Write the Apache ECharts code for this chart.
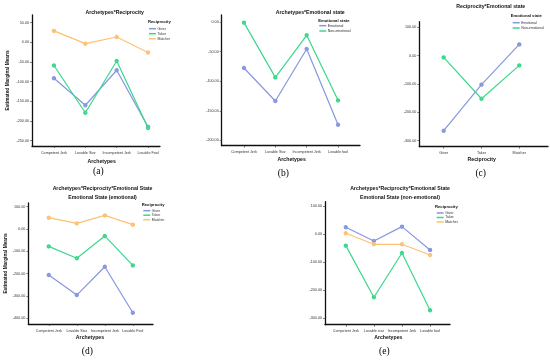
<!DOCTYPE html>
<html><head><meta charset="utf-8">
<script src="https://cdn.jsdelivr.net/npm/echarts@6/dist/echarts.min.js"></script>
<style>html,body{margin:0;padding:0;background:#fff}#c{width:550px;height:362px}</style>
</head><body><div id="c"></div>
<script>
// ---- categories ----
const archetypesA = ['Competent Jerk','Lovable Star','Incompetent Jerk','Lovable Fool'];
const archetypesB = ['Competent Jerk','Lovable Star','Incompetent Jerk','Lovable fool'];
const reciprocityCats = ['Giver','Taker','Matcher'];
const archetypesD = ['Competent Jerk','Lovable Star','Incompetent Jerk','Lovable Fool'];
const archetypesE = ['Competent Jerk','Lovable star','Incompetent Jerk','Lovable fool'];
// ---- series values ----
const giverA   = [-91.5, -160, -71, -215];
const takerA   = [-59, -179, -47.5, -218];
const matcherA = [29, -3.4, 13.5, -26];
const emotionalB    = [-77.7, -133.5, -45.6, -173.5];
const nonEmotionalB = [-1, -93.5, -22.5, -132.4];
const emotionalC    = [-264.7, -102, 40];
const nonEmotionalC = [-5.9, -151.8, -34];
const giverD   = [-206, -295.5, -168.7, -374.6];
const takerD   = [-77.6, -131, -31, -162.7];
const matcherD = [50.7, 25.4, 61, 19.4];
const giverE   = [25, -24, 27.5, -56];
const takerE   = [-40.6, -225.8, -67, -272.4];
const matcherE = [3.6, -35.8, -35.8, -74];
// ---- tick labels ----
const ticksA = [-250, -200, -150, -100, -50, 0, 50];
const ticksB = [-200, -150, -100, -50, 0];
const ticksC = [-300, -200, -100, 0, 100];
const ticksD = [-400, -300, -200, -100, 0, 100];
const ticksE = [-300, -200, -100, 0, 100];

const FONT = 'Liberation Sans';
const BLUE = '#8697DE', GREEN = '#3CD78D', ORANGE = '#FDC173';

const panels = [
  {g:{left:32,top:15,width:128,height:131}, x:[-0.70,3.38], y:[-263.6,69.4], cats:archetypesA, ticks:ticksA,
   series:[['Giver',giverA,BLUE],['Taker',takerA,GREEN],['Matcher',matcherA,ORANGE]],
   title:['Archetypes*Reciprocity'], tx:114.7, ty:[12.3],
   lt:'Reciprocity', ltx:148, lty:21.7, lx:149, ly:26.7, lgap:1,
   xname:'Archetypes', xnx:101.7, xny:162, lab:'(a)', labx:98.3, laby:171.7, yname:true, ynGap:22},
  {g:{left:221.7,top:15,width:138.3,height:130.7}, x:[-0.71,3.7], y:[-209,11.8], cats:archetypesB, ticks:ticksB,
   series:[['Emotional',emotionalB,BLUE],['Non-emotional',nonEmotionalB,GREEN]],
   title:['Archetypes*Emotional state'], tx:310.3, ty:[12.3],
   lt:'Emotional state', ltx:318.3, lty:20.7, lx:319.3, ly:23.7, lgap:1.3,
   xname:'Archetypes', xnx:291.7, xny:159.3, lab:'(b)', labx:283.3, laby:173.3},
  {g:{left:419.3,top:21.7,width:128.7,height:125}, x:[-0.645,2.76], y:[-321,120], cats:reciprocityCats, ticks:ticksC,
   series:[['Emotional',emotionalC,BLUE],['Non-emotional',nonEmotionalC,GREEN]],
   title:['Reciprocity*Emotional state'], tx:490.8, ty:[6.3],
   lt:'Emotional state', ltx:510.7, lty:15.7, lx:512.7, ly:20.7, lgap:1.3,
   xname:'Reciprocity', xnx:481.7, xny:159.3, lab:'(c)', labx:480.7, laby:173.3},
  {g:{left:28.3,top:203,width:124.7,height:121}, x:[-0.73,3.72], y:[-425,116.4], cats:archetypesD, ticks:ticksD,
   series:[['Giver',giverD,BLUE],['Taker',takerD,GREEN],['Matcher',matcherD,ORANGE]],
   title:['Archetypes*Reciprocity*Emotional State','Emotional State (emotional)'], tx:102.5, ty:[189,197.3],
   lt:'Reciprocity', ltx:141.7, lty:204.7, lx:143.3, ly:208.7, lgap:0.5,
   xname:'Archetypes', xnx:90, xny:337.3, lab:'(d)', labx:87.3, laby:351.7, yname:true, ynGap:20},
  {g:{left:325,top:201.7,width:125,height:123}, x:[-0.74,3.71], y:[-324,116.8], cats:archetypesE, ticks:ticksE,
   series:[['Giver',giverE,BLUE],['Taker',takerE,GREEN],['Matcher',matcherE,ORANGE]],
   title:['Archetypes*Reciprocity*Emotional State','Emotional State (non-emotional)'], tx:400, ty:[188.7,197.3],
   lt:'Reciprocity', ltx:435, lty:206.7, lx:436.7, ly:211, lgap:0.5,
   xname:'Archetypes', xnx:388.3, xny:337.3, lab:'(e)', labx:384.3, laby:351.7}
];

const grids=[], xAxes=[], yAxes=[], series=[], legends=[], graphics=[];
panels.forEach((p,i)=>{
  grids.push(Object.assign({containLabel:false}, p.g));
  const idx = p.cats.map((c,k)=>k);
  xAxes.push({type:'value', gridIndex:i, min:p.x[0], max:p.x[1],
    axisLine:{show:true,onZero:false,lineStyle:{color:'#111',width:1.3}},
    splitLine:{show:false},
    axisTick:{show:true,customValues:idx,length:2,lineStyle:{color:'#333',width:0.6}},
    axisLabel:{customValues:idx,formatter:v=>p.cats[Math.round(v)],fontSize:3.7,fontFamily:FONT,color:'#333',margin:4.5}});
  yAxes.push({type:'value', gridIndex:i, min:p.y[0], max:p.y[1],
    name: p.yname ? 'Estimated Marginal Means' : '', nameLocation:'middle', nameRotate:90, nameGap:p.ynGap||0,
    nameTextStyle:{fontSize:4.8,fontWeight:'bold',fontFamily:FONT,color:'#111'},
    axisLine:{show:true,onZero:false,lineStyle:{color:'#111',width:1.3}},
    splitLine:{show:false},
    axisTick:{show:true,customValues:p.ticks,length:2,lineStyle:{color:'#333',width:0.6}},
    axisLabel:{customValues:p.ticks,formatter:v=>v.toFixed(2),fontSize:3.7,fontFamily:FONT,color:'#333',margin:3}});
  p.series.forEach(([name,vals,color])=>{
    series.push({type:'line', name, xAxisIndex:i, yAxisIndex:i,
      data: vals.map((v,k)=>[k,v]), color,
      symbol:'emptyCircle', symbolSize:2.4,
      lineStyle:{width:1.2,color}, itemStyle:{color,borderWidth:0.7},
      emphasis:{disabled:true}, animation:false});
  });
  legends.push({left:p.lx, top:p.ly, orient:'vertical', padding:0, itemGap:p.lgap,
    itemWidth:7, itemHeight:1.5, icon:'rect',
    data:p.series.map(s=>s[0]), selectedMode:false,
    textStyle:{fontSize:3.5,fontFamily:FONT,color:'#333',lineHeight:4,padding:[0,0,0,-3.5]}});
  p.title.forEach((t,k)=>{
    graphics.push({type:'text', style:{text:t,x:p.tx,y:p.ty[k],align:'center',verticalAlign:'middle',
      fontSize:5.2,fontWeight:'bold',fontFamily:FONT,fill:'#111'}});
  });
  graphics.push({type:'text', style:{text:p.lt,x:p.ltx,y:p.lty,align:'left',verticalAlign:'middle',
    fontSize:4.2,fontWeight:'bold',fontFamily:FONT,fill:'#111'}});
  graphics.push({type:'text', style:{text:p.xname,x:p.xnx,y:p.xny,align:'center',verticalAlign:'middle',
    fontSize:5.2,fontWeight:'bold',fontFamily:FONT,fill:'#111'}});
  graphics.push({type:'text', style:{text:p.lab,x:p.labx,y:p.laby,align:'center',verticalAlign:'middle',
    fontSize:9.5,fontFamily:'Liberation Serif',fill:'#000'}});
});

const chart = echarts.init(document.getElementById('c'), null, {renderer:'canvas'});
chart.setOption({animation:false, grid:grids, xAxis:xAxes, yAxis:yAxes, series, legend:legends, graphic:graphics});
</script></body></html>
